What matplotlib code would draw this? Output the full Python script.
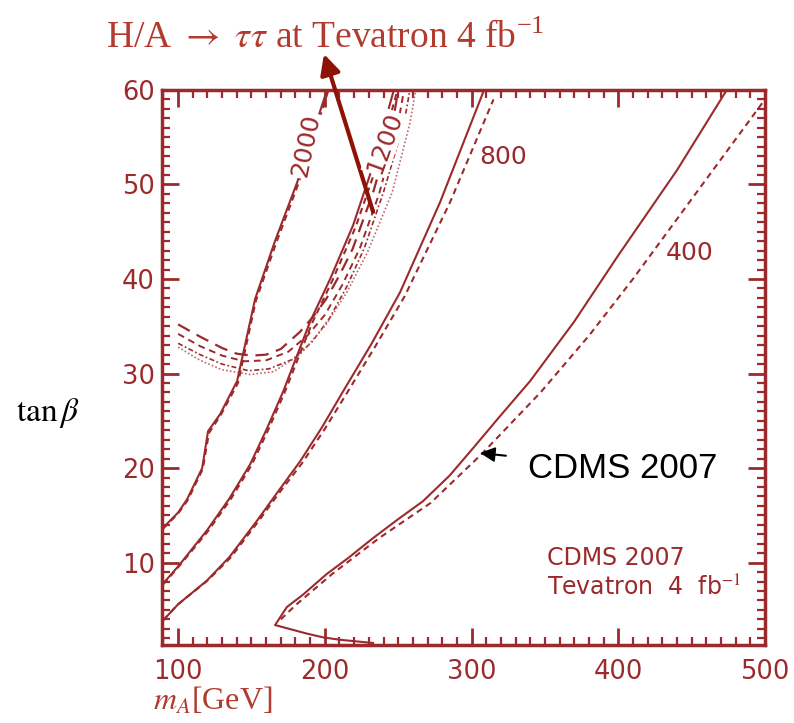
"""tan(beta) vs m_A: CDMS 2007 contours against the Tevatron 4 fb^-1 reach."""

import matplotlib
matplotlib.use("Agg")
import matplotlib.pyplot as plt
from matplotlib.ticker import MultipleLocator, FixedLocator

plt.rcParams["mathtext.fontset"] = "stix"

RED = "#9c2a2c"
TITLE_RED = "#b23a2e"
ARROW_RED = "#8e1206"

# CDMS 2007 contours (solid) and their dashed companions
m_2000 = [89.8, 100, 106.1, 116.4, 120.4, 128.6, 140.2, 152.5, 166.0, 181.1, 190.0, 201.5]
tb_2000 = [13.7, 15.3, 16.7, 20.0, 23.9, 25.7, 29.2, 37.9, 44.0, 50.2, 54.5, 60.0]
m_2000d = [89.8, 100, 106.5, 116.8, 121.0, 129.0, 140.8, 153.0, 166.8, 181.8, 191.0, 202.5]
tb_2000d = [13.6, 15.2, 16.6, 19.9, 23.7, 25.6, 29.0, 37.7, 43.8, 50.0, 54.4, 60.0]

m_1200 = [89.8, 100, 119.6, 135, 149.1, 160, 171.6, 190.0, 203.6, 219.3, 232.9, 246.5]
tb_1200 = [7.8, 9.6, 13.4, 16.8, 20.4, 24.0, 28.1, 35.5, 40.0, 45.7, 52.0, 59.7]
m_1200d = [89.8, 100, 120.2, 135.8, 150.0, 161.0, 172.6, 191.2, 205.0, 221.0, 235.0, 249.0]
tb_1200d = [7.7, 9.5, 13.3, 16.7, 20.3, 23.9, 28.0, 35.3, 39.8, 45.5, 51.8, 59.7]

m_800 = [89.8, 100, 119.6, 135, 153.6, 168, 183.1, 198, 212.4, 232, 251.3, 278.5, 307.8]
tb_800 = [3.9, 5.6, 8.1, 10.6, 14.4, 17.5, 20.7, 24.3, 28.1, 33.2, 38.6, 48.1, 59.7]
m_800d = [89.8, 100, 120.0, 135.6, 154.4, 169, 184.4, 199.8, 214.5, 234.5, 254.5, 285.3, 315.0]
tb_800d = [3.9, 5.6, 8.1, 10.5, 14.3, 17.4, 20.5, 24.1, 27.8, 32.9, 38.2, 48.1, 59.0]

m_400 = [232.9, 210, 198.8, 187.7, 166.1, 174.1, 185, 201.3, 216, 232.9, 250, 266.9,
         285, 301.0, 320, 339.9, 370, 400, 440, 474]
tb_400 = [1.5, 1.85, 2.1, 2.5, 3.4, 5.3, 6.6, 8.8, 10.5, 12.6, 14.6, 16.5,
          19.2, 22.1, 25.6, 29.2, 35.5, 42.5, 51.5, 60.0]
m_400d = [170, 180, 205, 237, 272, 307, 347, 380, 410, 455, 500]
tb_400d = [4.0, 5.5, 8.8, 12.6, 16.3, 21.5, 28.0, 34.0, 40.0, 49.5, 59.0]

# Tevatron H/A -> tau tau reach, four bands
m_tev_a = [100, 115, 130, 140, 150, 160, 170, 183, 192, 201, 210, 219, 233, 246, 250]
tb_tev_a = [35.2, 33.9, 32.7, 32.1, 31.9, 32.0, 32.6, 34.4, 36.0, 37.9, 40.4, 43.2, 49.2, 56.2, 60.0]
m_tev_b = [100, 115, 130, 145, 160, 175, 188, 200, 212, 224, 237, 250, 254]
tb_tev_b = [34.2, 32.9, 31.9, 31.3, 31.4, 32.3, 34.0, 36.2, 39.4, 43.3, 49.0, 56.5, 60.0]
m_tev_c = [100, 115, 130, 148, 162, 178, 191, 203, 215, 227, 240, 254, 258]
tb_tev_c = [33.2, 32.0, 31.0, 30.3, 30.5, 31.5, 33.3, 35.8, 39.2, 43.3, 49.2, 56.5, 60.0]
m_tev_d = [100, 115, 130, 149, 165, 183, 201, 215, 229, 246, 258, 262]
tb_tev_d = [32.8, 31.4, 30.4, 29.9, 30.2, 32.0, 35.2, 38.6, 42.8, 49.2, 56.5, 60.0]

# contour labels: (text, m_A, tan beta, rotation)
contour_labels = [("2000", 187.2, 54.1, 78), ("1200", 240.7, 54.4, 70),
                  ("800", 321.5, 52.9, 0), ("400", 449.0, 42.8, 0)]

x_ticks = [100, 200, 300, 400, 500]
y_ticks = [10, 20, 30, 40, 50, 60]

fig = plt.figure(figsize=(7.94, 7.23), dpi=100)
ax = fig.add_axes([0.204, 0.108, 0.7594, 0.7676])

lw = 1.5
for m, tb in [(m_2000, tb_2000), (m_1200, tb_1200), (m_800, tb_800), (m_400, tb_400)]:
    ax.plot(m, tb, color=RED, lw=lw, zorder=3)
for m, tb in [(m_2000d, tb_2000d), (m_1200d, tb_1200d), (m_800d, tb_800d), (m_400d, tb_400d)]:
    ax.plot(m, tb, color=RED, lw=lw, ls=(0, (3, 2.2)), zorder=3)

ax.plot(m_tev_a, tb_tev_a, color=RED, lw=1.6, ls=(0, (6, 3.5)), zorder=2)
ax.plot(m_tev_b, tb_tev_b, color=RED, lw=1.4, ls=(0, (3.5, 2.5)), zorder=2)
ax.plot(m_tev_c, tb_tev_c, color=RED, lw=1.2, ls=(0, (3, 1.5, 1, 1.5)), zorder=2)
ax.plot(m_tev_d, tb_tev_d, color="#c0686a", lw=1.2, ls=(0, (1, 1.3)), zorder=2)

for txt, m, tb, rot in contour_labels:
    ax.text(m, tb, txt, color=RED, fontsize=18, rotation=rot, ha="center", va="center",
            family="DejaVu Sans", zorder=4,
            bbox=dict(facecolor="white", edgecolor="none", pad=1.0))

ax.text(351.5, 11.8, "CDMS 2007\nTevatron  4  fb$^{-1}$", color=RED, fontsize=17,
        family="DejaVu Sans", ha="left", va="top", linespacing=1.25)

ax.annotate("CDMS 2007", xy=(305.8, 21.6), xytext=(338.5, 20.0),
            fontsize=25, family="Liberation Sans", color="black", va="center", ha="left",
            arrowprops=dict(arrowstyle="-|>", color="black", lw=1.5,
                            mutation_scale=22, shrinkA=14, shrinkB=0))

ax.set_xlim(89, 500)
ax.set_ylim(1.3, 60)
ax.xaxis.set_major_locator(FixedLocator(x_ticks))
ax.yaxis.set_major_locator(FixedLocator(y_ticks))
ax.xaxis.set_minor_locator(MultipleLocator(10))
ax.yaxis.set_minor_locator(MultipleLocator(1))
ax.tick_params(which="both", direction="in", top=True, right=True, color=RED,
               labelcolor=RED, labelsize=18.5)
ax.tick_params(which="major", length=12, width=2)
ax.tick_params(which="minor", length=6, width=1.6)
ax.tick_params(axis="x", which="major", pad=10)
ax.tick_params(axis="y", which="major", pad=5)
for lab in ax.get_xticklabels() + ax.get_yticklabels():
    lab.set_family("DejaVu Sans")
for sp in ax.spines.values():
    sp.set_color(RED)
    sp.set_linewidth(2.5)

fig.text(0.41, 0.934, r"H/A $\rightarrow$ $\tau\tau$ at Tevatron 4 fb$^{\mathregular{-1}}$",
         color=TITLE_RED, fontsize=27, family="Liberation Serif", ha="center", va="baseline")

ax.annotate("", xy=(324 / 794, 1 - 54 / 723), xycoords="figure fraction",
            xytext=(232.9, 47.1), textcoords="data",
            arrowprops=dict(arrowstyle="-|>", color=ARROW_RED, lw=3,
                            mutation_scale=30, shrinkA=0, shrinkB=0))

fig.text(48 / 794, 1 - 413 / 723, r"$\mathrm{tan}\,\beta$", fontsize=24,
         color="black", ha="center", va="center")
fig.text(0.193, 0.018, r"$m_A$[GeV]", fontsize=23, color=TITLE_RED,
         family="Liberation Serif", ha="left", va="baseline")

fig.savefig("out.png", dpi=100)
